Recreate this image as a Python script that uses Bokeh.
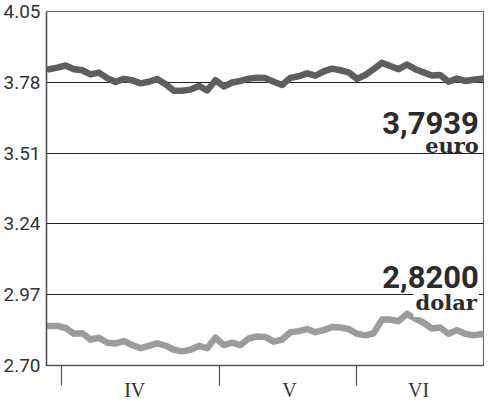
from bokeh.plotting import figure
from bokeh.models import Range1d, FixedTicker, Label, PrintfTickFormatter
from bokeh.embed import file_html
from bokeh.resources import INLINE

# Daily rates (trading days, end of March .. mid June)
euro = [3.830, 3.836, 3.844, 3.830, 3.826, 3.810, 3.817, 3.796, 3.781, 3.793,
        3.788, 3.776, 3.782, 3.793, 3.773, 3.748, 3.748, 3.752, 3.766, 3.749,
        3.788, 3.764, 3.779, 3.785, 3.794, 3.797, 3.796, 3.782, 3.770, 3.797,
        3.803, 3.814, 3.805, 3.822, 3.832, 3.826, 3.818, 3.793, 3.808, 3.830,
        3.854, 3.842, 3.830, 3.848, 3.830, 3.818, 3.806, 3.808, 3.782, 3.794,
        3.785, 3.790, 3.794]
dolar = [2.851, 2.851, 2.843, 2.821, 2.823, 2.799, 2.806, 2.787, 2.784, 2.793,
         2.778, 2.766, 2.775, 2.784, 2.776, 2.760, 2.754, 2.760, 2.775, 2.766,
         2.806, 2.778, 2.787, 2.778, 2.803, 2.811, 2.809, 2.791, 2.799, 2.827,
         2.831, 2.839, 2.827, 2.835, 2.847, 2.845, 2.839, 2.821, 2.815, 2.823,
         2.875, 2.875, 2.869, 2.897, 2.879, 2.863, 2.841, 2.845, 2.821, 2.835,
         2.821, 2.815, 2.820]
days = list(range(len(euro)))

month_bounds = [1.5, 20.5, 36.9]
month_centers = [10.3, 28.9, 44.4]
month_labels = ["IV", "V", "VI"]
y_ticks = [2.70, 2.97, 3.24, 3.51, 3.78, 4.05]

euro_last, euro_name = "3,7939", "euro"
dolar_last, dolar_name = "2,8200", "dolar"

p = figure(width=484, height=403, output_backend="svg", toolbar_location=None,
           x_range=Range1d(-0.3, len(days) - 1 + 0.2),
           y_range=Range1d(2.70, 4.05),
           min_border_left=46, min_border_right=1, min_border_top=11,
           min_border_bottom=30)
p.background_fill_color = "white"
p.border_fill_color = "white"
p.outline_line_color = "#666666"
p.outline_line_width = 1.2

# lines
p.line(days, euro, line_color="#5e5e5e", line_width=6.5, line_join="round", line_cap="round")
p.line(days, dolar, line_color="#9c9c9c", line_width=6.5, line_join="round", line_cap="round")

# y axis
p.yaxis.ticker = FixedTicker(ticks=y_ticks)
p.yaxis.formatter = PrintfTickFormatter(format="%.2f")
p.yaxis.major_tick_out = 0
p.yaxis.major_tick_in = 0
p.yaxis.minor_tick_out = 0
p.yaxis.minor_tick_in = 0
p.yaxis.axis_line_color = "#555555"
p.yaxis.axis_line_width = 1.5
p.yaxis.major_label_text_font = "Roboto"
p.yaxis.major_label_text_font_size = "19px"
p.yaxis.major_label_text_color = "#333333"
p.yaxis.major_label_standoff = 6
p.ygrid.grid_line_color = "#222222"
p.ygrid.grid_line_width = 1
p.xgrid.visible = False

# x axis: labels centred in months, ticks at month boundaries
p.xaxis.ticker = FixedTicker(ticks=month_centers, minor_ticks=month_bounds)
p.xaxis.major_label_overrides = {c: l for c, l in zip(month_centers, month_labels)}
p.xaxis.major_tick_out = 0
p.xaxis.major_tick_in = 0
p.xaxis.minor_tick_out = 20
p.xaxis.minor_tick_in = 0
p.xaxis.minor_tick_line_color = "#555555"
p.xaxis.minor_tick_line_width = 1.2
p.xaxis.axis_line_color = "#555555"
p.xaxis.axis_line_width = 1.5
p.xaxis.major_label_text_font = "Liberation Serif"
p.xaxis.major_label_text_font_size = "20px"
p.xaxis.major_label_text_color = "#333333"
p.xaxis.major_label_standoff = -7

last = days[-1]
p.add_layout(Label(x=last, y=3.626, text=euro_last, x_offset=-3,
                   text_align="right", text_baseline="alphabetic",
                   text_font="Roboto", text_font_style="bold",
                   text_font_size="31px", text_color="#2b2b2b"))
p.add_layout(Label(x=last, y=3.539, text=euro_name, x_offset=-3,
                   text_align="right", text_baseline="alphabetic",
                   text_font="DejaVu Serif", text_font_style="bold",
                   text_font_size="21px", text_color="#2b2b2b"))
p.add_layout(Label(x=last, y=3.038, text=dolar_last, x_offset=-3,
                   text_align="right", text_baseline="alphabetic",
                   text_font="Roboto", text_font_style="bold",
                   text_font_size="31px", text_color="#2b2b2b"))
p.add_layout(Label(x=last, y=2.940, text=dolar_name, x_offset=-3,
                   text_align="right", text_baseline="alphabetic",
                   text_font="DejaVu Serif", text_font_style="bold",
                   text_font_size="21px", text_color="#2b2b2b",
                   background_fill_color="white", padding=2))

open("out.html", "w").write(file_html(p, INLINE))
